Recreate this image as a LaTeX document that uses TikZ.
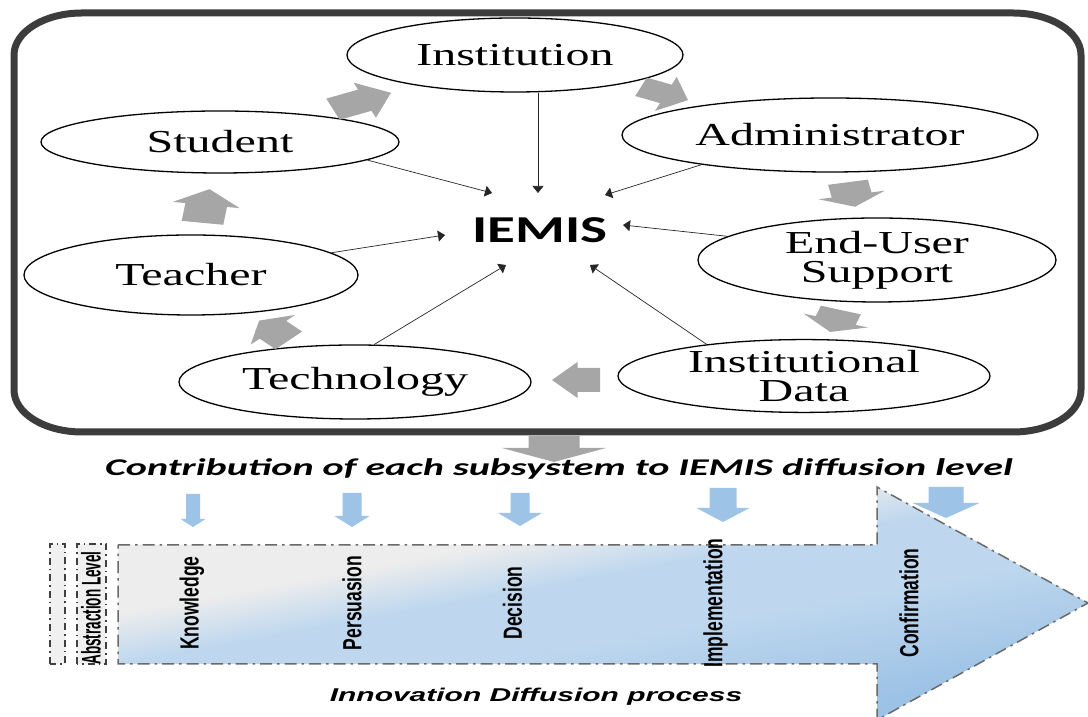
\documentclass[tikz,border=0pt]{standalone}
\usepackage{fontspec}
\usetikzlibrary{shapes.geometric,arrows.meta}
\newfontfamily\nodefont[FakeStretch=1.5]{Liberation Serif}
\newfontfamily\iemisfont[FakeStretch=1.5]{Carlito}
\newfontfamily\titlefont[FakeStretch=1.67]{Carlito}
\newfontfamily\procfont[FakeStretch=1.62]{Liberation Sans}
\newfontfamily\stagefont{Liberation Sans}
\definecolor{boxgray}{HTML}{3C3C3C}
\definecolor{agray}{HTML}{A6A6A6}
\definecolor{ablue}{HTML}{9DC3E6}
\definecolor{pgray}{HTML}{EDEDED}
\definecolor{pblue}{HTML}{BED7EE}
\definecolor{pblueb}{HTML}{9CC2E5}
\definecolor{dashgray}{HTML}{6A6A6A}
\definecolor{absfill}{HTML}{F0F0F0}
\pgfdeclarehorizontalshading{procshade}{100bp}{color(0bp)=(pgray); color(38bp)=(pgray); color(45bp)=(pblue); color(54bp)=(pblue); color(69bp)=(pblueb); color(100bp)=(pblueb)}
% #1 colour, #2 x, #3 y, #4 angle, #5 length, #6 head length, #7 body width, #8 head width, #9 xscale
\newcommand{\barrow}[9]{%
  \begin{scope}[shift={(#2,#3)}, xscale=#9, rotate=#4]
    \fill[#1] ({-#5/2},{-#7/2}) -- ({#5/2-#6},{-#7/2}) -- ({#5/2-#6},{-#8/2}) -- ({#5/2},0)
      -- ({#5/2-#6},{#8/2}) -- ({#5/2-#6},{#7/2}) -- ({-#5/2},{#7/2}) -- cycle;
  \end{scope}}
\tikzset{
  ell/.style={ellipse, draw=black, line width=1.3pt, inner sep=0pt, align=center,
    font=\nodefont\fontsize{32}{29}\selectfont},
  conn/.style={draw=black!85, line width=0.7pt, -{Triangle[length=7pt,width=11pt]}},
  stage/.style={font=\stagefont\bfseries\fontsize{17.5}{19}\selectfont, inner sep=0pt, xscale=1.5, rotate=90},
  abstr/.style={draw=black!75, fill=absfill, line width=1.2pt, dash pattern=on 7pt off 4pt on 1.5pt off 4pt},
  procline/.style={draw=dashgray, line width=1.5pt, dash pattern=on 12pt off 5pt on 2.5pt off 5pt}
}
\begin{document}
\begin{tikzpicture}[x=1pt,y=1pt]
\useasboundingbox (0,0) rectangle (1088,717);
\clip (0,0) rectangle (1088,717);
% outer frame
\draw[boxgray, line width=7pt]
  (82,704) -- (1013,704) arc[start angle=90, end angle=0, x radius=68, y radius=42]
  -- (1081,327) arc[start angle=0, end angle=-90, x radius=68, y radius=42]
  -- (82,285) arc[start angle=270, end angle=180, x radius=68, y radius=42]
  -- (14,662) arc[start angle=180, end angle=90, x radius=68, y radius=42] -- cycle;
% ellipses
\node[ell, minimum width=336, minimum height=74] (inst) at (515,662) {Institution};
\node[ell, minimum width=358, minimum height=62] (student) at (220,575) {Student};
\node[ell, minimum width=416, minimum height=74] (admin) at (830,582) {Administrator};
\node[ell, minimum width=358, minimum height=84] (enduser) at (877,457) {End-User\\Support};
\node[ell, minimum width=334, minimum height=80] (teacher) at (191,442) {Teacher};
\node[ell, minimum width=352, minimum height=74] (tech) at (355,335) {Technology};
\node[ell, minimum width=372, minimum height=70] (idata) at (804,341) {Institutional\\Data};
\node[font=\iemisfont\bfseries\fontsize{38}{40}\selectfont, inner sep=0pt] (iemis) at (540,487) {IEMIS};
% arrow ends near IEMIS
\coordinate (eS) at (492,524);
\coordinate (eI) at (538,524);
\coordinate (eA) at (605,522);
\coordinate (eE) at (623,492);
\coordinate (eT) at (445,482);
\coordinate (eTe) at (506,452);
\coordinate (eD) at (590,452);
\draw[conn] (student.-7) -- (eS);
\draw[conn] (eI |- inst.south) -- (eI);
\draw[conn] (admin.-167) -- (eA);
\draw[conn] (enduser.171) -- (eE);
\draw[conn] (teacher.9) -- (eT);
\draw[conn] (tech.63) -- (eTe);
\draw[conn] (idata.162) -- (eD);
% cycle block arrows
\barrow{agray}{362}{616}{23}{42}{19}{23}{38}{1.5}
\barrow{agray}{664.5}{623.5}{-23}{34}{16}{20}{37}{1.5}
\barrow{agray}{851.5}{522.5}{-79}{25}{12}{27}{45}{1.5}
\barrow{agray}{835.5}{396}{-108}{23}{12}{28}{45}{1.5}
\barrow{agray}{576}{337}{180}{32}{17}{24}{36}{1.5}
\barrow{agray}{274}{386.5}{135}{28}{13}{25}{42}{1.5}
\barrow{agray}{206}{511}{82}{34}{16}{28}{45}{1.5}
% big down arrow
\barrow{agray}{554}{268}{-90}{26}{14}{51}{104}{1}
% title
\node[font=\titlefont\bfseries\itshape\fontsize{24}{26}\selectfont, anchor=base, inner sep=0pt] (title) at (559,241)
  {Contribution of each subsystem to IEMIS diffusion level};
% process arrow
\begin{scope}
  \clip (118,172) -- (877,172) -- (877,230) -- (1088,114) -- (877,-3) -- (877,53) -- (118,53) -- cycle;
  \begin{scope}[transform canvas={shift={(118,77)}, rotate=-79.6}]
    \shade[shading=procshade] (-120,-30) rectangle (240,1000);
  \end{scope}
\end{scope}
\draw[procline]
  (118,172) -- (877,172) -- (877,230) -- (1088,114) -- (877,-3) -- (877,53) -- (118,53) -- cycle;
% blue arrows
\barrow{ablue}{193}{206.5}{-90}{33}{8}{14}{25}{1}
\barrow{ablue}{352}{207}{-90}{34}{11}{19}{35}{1}
\barrow{ablue}{520}{207.5}{-90}{33}{13}{19}{44}{1}
\barrow{ablue}{723}{212}{-90}{34}{14}{27}{53}{1}
\barrow{ablue}{946}{214.5}{-90}{31}{15}{35}{67}{1}
% abstraction level
\draw[abstr] (50,53) rectangle (65,173);
\draw[abstr] (77,53) rectangle (106,173);
\node[font=\stagefont\bfseries\fontsize{13.5}{15}\selectfont, inner sep=0pt, xscale=2, rotate=90] (abs) at (91,109) {Abstraction Level};
% stages
\node[stage] (know) at (192,114) {Knowledge};
\node[stage] (pers) at (352,114) {Persuasion};
\node[stage] (deci) at (512.5,114) {Decision};
\node[stage] (impl) at (715.5,114) {Implementation};
\node[stage] (conf) at (909,114) {Confirmation};
\node[font=\procfont\bfseries\itshape\fontsize{18.5}{20}\selectfont, anchor=base, inner sep=0pt] (proc) at (536,15)
  {Innovation Diffusion process};
\end{tikzpicture}
\end{document}
